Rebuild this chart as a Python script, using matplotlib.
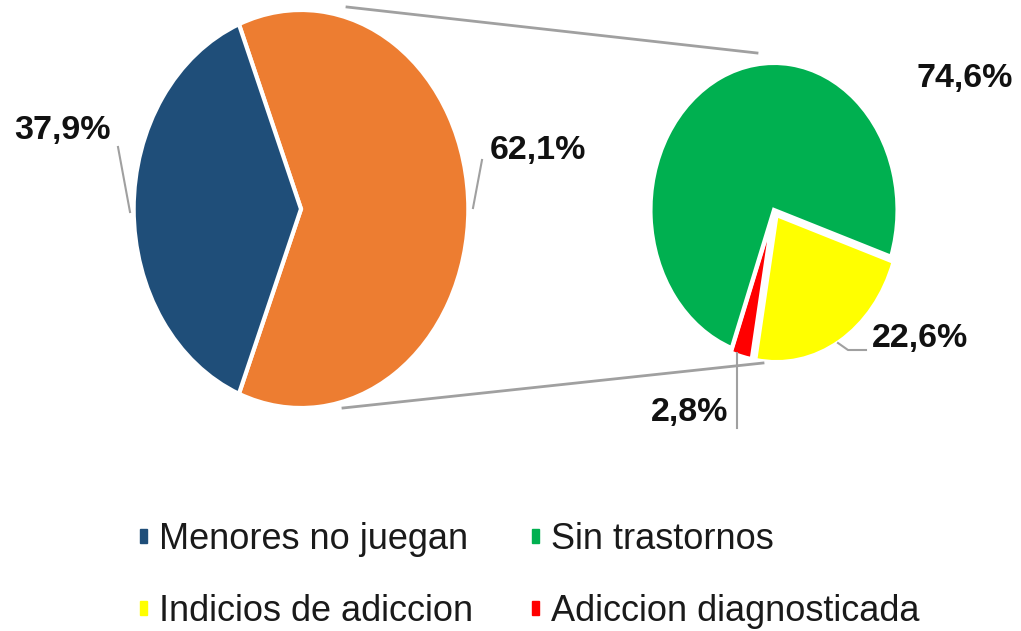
import matplotlib.pyplot as plt
from matplotlib.patches import Patch

# datos
main_labels = ["Menores no juegan", "Menores juegan"]
main_values = [37.9, 62.1]
main_colors = ["#1F4E79", "#ED7D31"]

sub_labels = ["Sin trastornos", "Indicios de adiccion", "Adiccion diagnosticada"]
sub_values = [74.6, 22.6, 2.8]
sub_colors = ["#00B050", "#FFFF00", "#FF0000"]

font = ["Liberation Sans", "DejaVu Sans"]

fig = plt.figure(figsize=(10.21, 6.31), dpi=100)

# pie principal (elipse)
ax1 = fig.add_axes([132 / 1021, 1 - 410 / 631, 338 / 1021, 402 / 631])
half = main_values[1] * 3.6 / 2
ax1.pie([main_values[1], main_values[0]], colors=[main_colors[1], main_colors[0]],
        startangle=-half, counterclock=True, radius=1,
        wedgeprops=dict(edgecolor="white", linewidth=3))
ax1.set_aspect("auto")
ax1.set_xlim(-1.01, 1.01)
ax1.set_ylim(-1.01, 1.01)
ax1.axis("off")

# pie secundario
ax2 = fig.add_axes([648 / 1021, 1 - 360 / 631, 252 / 1021, 300 / 631])
ax2.pie([sub_values[2], sub_values[1], sub_values[0]],
        colors=[sub_colors[2], sub_colors[1], sub_colors[0]],
        startangle=-110, counterclock=True, explode=[0.03, 0.04, 0],
        wedgeprops=dict(edgecolor="white", linewidth=3))
ax2.set_aspect("auto")
ax2.set_xlim(-1.02, 1.02)
ax2.set_ylim(-1.02, 1.02)
ax2.axis("off")

# capa de anotaciones en pixeles
ov = fig.add_axes([0, 0, 1, 1], zorder=5)
ov.set_xlim(0, 1021)
ov.set_ylim(631, 0)
ov.axis("off")
ov.patch.set_alpha(0)

gray = "#A0A0A0"
ov.plot([347, 757], [7, 53], color=gray, lw=2)
ov.plot([343, 763], [408, 363], color=gray, lw=2)

ov.plot([118, 130], [147, 212], color=gray, lw=1.5)
ov.plot([473, 482], [208, 160], color=gray, lw=1.5)
ov.plot([838, 848, 866], [343, 350, 350], color=gray, lw=1.5)
ov.plot([737, 737], [353, 428], color=gray, lw=1.5)

lab_kw = dict(fontsize=24.5, fontweight="bold", family=font, color="#111111",
              ha="center", va="center")
ov.text(62, 130, f"{main_values[0]:.1f}%".replace(".", ","), **lab_kw)
ov.text(538, 150, f"{main_values[1]:.1f}%".replace(".", ","), **lab_kw)
ov.text(965, 79, f"{sub_values[0]:.1f}%".replace(".", ","), **lab_kw)
ov.text(920, 338, f"{sub_values[1]:.1f}%".replace(".", ","), **lab_kw)
ov.text(690, 413, f"{sub_values[2]:.1f}%".replace(".", ","), **lab_kw)

# leyenda
handles = [Patch(color=main_colors[0]), Patch(color=sub_colors[1]),
           Patch(color=sub_colors[0]), Patch(color=sub_colors[2])]
labels = [main_labels[0], sub_labels[1], sub_labels[0], sub_labels[2]]
leg = fig.legend(handles, labels, ncol=2, loc="upper left",
                 bbox_to_anchor=(140 / 1021, 1 - 522 / 631), frameon=False,
                 borderpad=0, borderaxespad=0, handlelength=0.2, handleheight=0.24,
                 handletextpad=0.33, columnspacing=1.62, labelspacing=1.03,
                 prop=dict(family=font, size=26))
for t in leg.get_texts():
    t.set_color("#1A1A1A")

fig.savefig("out.png", dpi=100)
